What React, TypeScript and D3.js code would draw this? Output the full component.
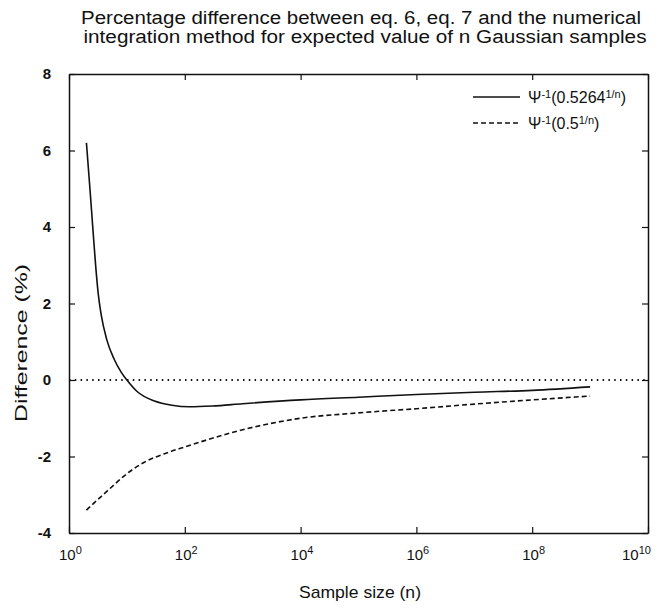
import { useEffect, useRef } from "react";
import * as d3 from "d3";

// sample sizes and percentage differences
const nSolid = [2, 2.3, 2.6, 2.9, 3.2, 3.6, 4.5, 6, 8, 10, 15, 30, 60, 120, 300, 1e3, 1e4, 1e5, 1e6, 1e7, 1e8, 1e9];
const diffSolid = [6.2, 5.0, 3.9, 2.95, 2.25, 1.7, 1.05, 0.55, 0.2, 0.0, -0.3, -0.55, -0.66, -0.7, -0.68, -0.62, -0.52, -0.45, -0.38, -0.32, -0.27, -0.18];

const nDashed = [2, 5, 10, 20, 50, 100, 1e3, 1e4, 1e5, 1e6, 1e7, 1e8, 1e9];
const diffDashed = [-3.4, -2.85, -2.45, -2.15, -1.9, -1.75, -1.3, -1.0, -0.86, -0.75, -0.63, -0.52, -0.42];

const xTickExp = [0, 2, 4, 6, 8, 10];
const yTicks = [-4, -2, 0, 2, 4, 6, 8];

const titleLines = [
  "Percentage difference between eq. 6, eq. 7 and the numerical",
  "integration method for expected value of n Gaussian samples",
];

const App = () => {
  const svgRef = useRef<SVGSVGElement | null>(null);

  useEffect(() => {
    const width = 660;
    const height = 615;
    const margin = { top: 74, right: 12, bottom: 82, left: 69 };
    const innerWidth = width - margin.left - margin.right;
    const innerHeight = height - margin.top - margin.bottom;
    const font = "'Liberation Sans', Arial, sans-serif";

    const svg = d3.select(svgRef.current);
    svg.selectAll("*").remove();

    // title
    svg
      .append("g")
      .selectAll("text")
      .data(titleLines)
      .join("text")
      .attr("x", (_, i) => (i === 0 ? 361 : 365))
      .attr("y", (_, i) => 24 + i * 19)
      .attr("text-anchor", "middle")
      .attr("font-family", font)
      .attr("font-size", 18)
      .attr("textLength", (_, i) => (i === 0 ? 560 : 563))
      .attr("lengthAdjust", "spacingAndGlyphs")
      .attr("fill", "#111")
      .text((d) => d);

    const g = svg.append("g").attr("transform", `translate(${margin.left}, ${margin.top})`);

    const xScale = d3.scaleLog().domain([1, 1e10]).range([0, innerWidth]);
    const yScale = d3.scaleLinear().domain([-4, 8]).range([innerHeight, 0]);
    const tickVals = xTickExp.map((e) => Math.pow(10, e));

    // axes with inward ticks on all four sides
    const styleAxis = (sel: any) => {
      sel.select(".domain").attr("stroke", "#111").attr("stroke-width", 1.5);
      sel.selectAll(".tick line").attr("stroke", "#111").attr("stroke-width", 1.2);
      sel.selectAll(".tick text").remove();
    };
    g.append("g")
      .attr("transform", `translate(0, ${innerHeight})`)
      .call(d3.axisBottom(xScale).tickValues(tickVals).tickSizeInner(-6).tickSizeOuter(0))
      .call(styleAxis);
    g.append("g")
      .call(d3.axisTop(xScale).tickValues(tickVals).tickSizeInner(-6).tickSizeOuter(0))
      .call(styleAxis);
    g.append("g")
      .call(d3.axisLeft(yScale).tickValues(yTicks).tickSizeInner(-6).tickSizeOuter(0))
      .call(styleAxis);
    g.append("g")
      .attr("transform", `translate(${innerWidth}, 0)`)
      .call(d3.axisRight(yScale).tickValues(yTicks).tickSizeInner(-6).tickSizeOuter(0))
      .call(styleAxis);

    // y tick labels
    g.append("g")
      .selectAll("text")
      .data(yTicks)
      .join("text")
      .attr("x", -18)
      .attr("y", (d) => yScale(d))
      .attr("dy", "0.35em")
      .attr("text-anchor", "end")
      .attr("font-family", font)
      .attr("font-size", 15)
      .attr("font-weight", "bold")
      .attr("fill", "#111")
      .text((d) => d);

    // x tick labels, 10 with superscript exponent
    const xl = g
      .append("g")
      .selectAll("text")
      .data(xTickExp)
      .join("text")
      .attr("x", (d) => Math.min(xScale(Math.pow(10, d)) - 10, innerWidth - 26))
      .attr("y", innerHeight + 27)
      .attr("font-family", font)
      .attr("font-size", 15)
      .attr("fill", "#111");
    xl.append("tspan").text("10");
    xl.append("tspan").attr("dy", -6).attr("font-size", 11).text((d) => d);

    // zero reference line
    g.append("line")
      .attr("x1", 0)
      .attr("x2", innerWidth)
      .attr("y1", yScale(0))
      .attr("y2", yScale(0))
      .attr("stroke", "#111")
      .attr("stroke-width", 2)
      .attr("stroke-dasharray", "1.5 4.3");

    const line = d3
      .line<[number, number]>()
      .x((d) => xScale(d[0]))
      .y((d) => yScale(d[1]))
      .curve(d3.curveMonotoneX);

    g.append("path")
      .datum(nSolid.map((n, i) => [n, diffSolid[i]] as [number, number]))
      .attr("d", line)
      .attr("fill", "none")
      .attr("stroke", "#111")
      .attr("stroke-width", 1.6);

    g.append("path")
      .datum(nDashed.map((n, i) => [n, diffDashed[i]] as [number, number]))
      .attr("d", line)
      .attr("fill", "none")
      .attr("stroke", "#111")
      .attr("stroke-width", 1.6)
      .attr("stroke-dasharray", "5 3");

    // legend
    const legend = [
      { base: "0.5264", dash: null },
      { base: "0.5", dash: "5 3" },
    ];
    const lg = svg.append("g").attr("transform", "translate(473, 97)");
    legend.forEach((d, i) => {
      const row = lg.append("g").attr("transform", `translate(0, ${i * 26})`);
      row
        .append("line")
        .attr("x1", 0)
        .attr("x2", 47)
        .attr("stroke", "#111")
        .attr("stroke-width", 1.5)
        .attr("stroke-dasharray", d.dash);
      const t = row
        .append("text")
        .attr("x", 55)
        .attr("y", 6)
        .attr("font-family", font)
        .attr("font-size", 16)
        .attr("fill", "#111");
      t.append("tspan").text("Ψ");
      t.append("tspan").attr("dy", -5).attr("font-size", 11).text("-1");
      t.append("tspan").attr("dy", 5).text(`(${d.base}`);
      t.append("tspan").attr("dy", -5).attr("font-size", 11).text("1/n");
      t.append("tspan").attr("dy", 5).text(")");
    });

    // axis titles
    svg
      .append("text")
      .attr("transform", `translate(27, 343) rotate(-90)`)
      .attr("text-anchor", "middle")
      .attr("font-family", font)
      .attr("font-size", 17)
      .attr("textLength", 158)
      .attr("lengthAdjust", "spacingAndGlyphs")
      .attr("fill", "#111")
      .text("Difference (%)");

    svg
      .append("text")
      .attr("x", 360)
      .attr("y", 598)
      .attr("text-anchor", "middle")
      .attr("font-family", font)
      .attr("font-size", 17)
      .attr("textLength", 122)
      .attr("lengthAdjust", "spacingAndGlyphs")
      .attr("fill", "#111")
      .text("Sample size (n)");
  }, []);

  return (
    <svg
      ref={svgRef}
      width={660}
      height={615}
      style={{ position: "absolute", left: 0, top: 0, background: "white" }}
    />
  );
};

export default App;
